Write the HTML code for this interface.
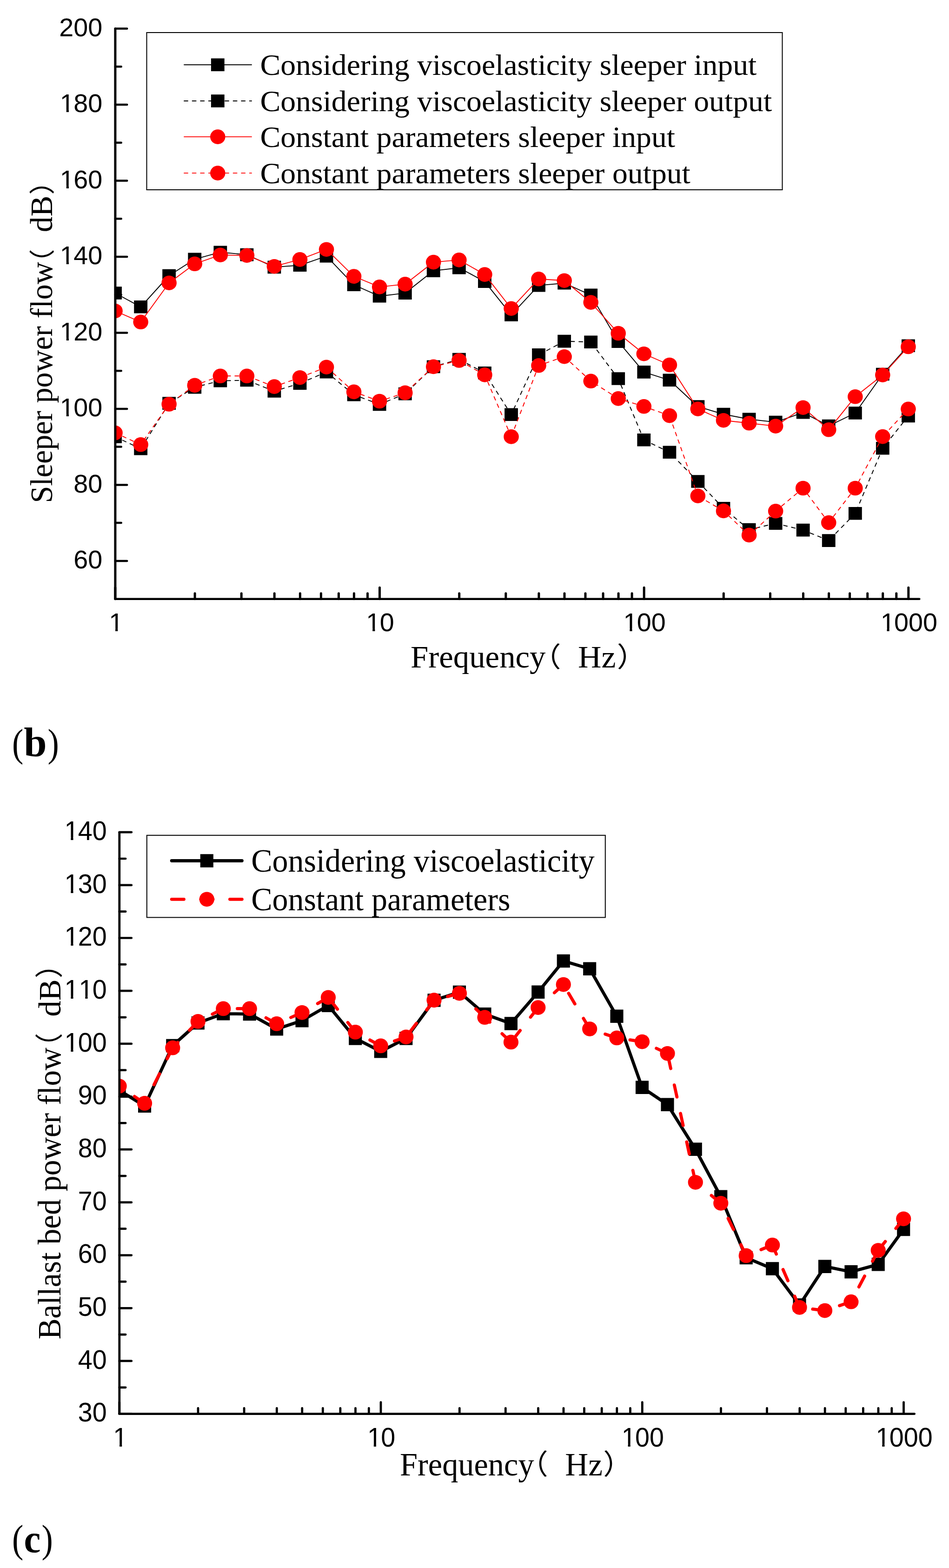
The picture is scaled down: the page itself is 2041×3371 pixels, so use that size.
<!DOCTYPE html>
<html lang="en"><head><meta charset="utf-8"><title>Power flow figures (b) and (c)</title>
<style>
html,body{margin:0;padding:0;background:#fff;}
svg{display:block;}
text{fill:#000;white-space:pre;}
.tk{font-family:"Liberation Sans",sans-serif;font-kerning:none;}
.sf{font-family:"Liberation Serif",serif;}
.sb{font-family:"Liberation Serif",serif;font-weight:bold;}
.cj{font-family:"Liberation Serif","Noto Sans CJK SC",sans-serif;}
.ax{stroke:#000;stroke-linecap:round;fill:none;}
</style></head><body>
<svg width="2041" height="3371" viewBox="0 0 2041 3371">
<rect x="0" y="0" width="2041" height="3371" fill="#ffffff"/>
<defs>
<clipPath id="clip1"><rect x="247.9" y="0" width="2041" height="1287.6"/></clipPath>
<clipPath id="clip2"><rect x="256.8" y="1700" width="2041" height="1339.6"/></clipPath>
</defs>
<g clip-path="url(#clip1)">
<g transform="scale(1.03 1)">
<path d="M293.84 659.80L240.34 630.00M353.03 592.50L293.84 659.80M406.53 557.30L353.03 592.50M460.03 542.20L406.53 557.30M515.44 547.60L460.03 542.20M572.72 574.40L515.44 547.60M626.22 570.30L572.72 574.40M681.63 550.60L626.22 570.30M738.91 612.30L681.63 550.60M792.41 636.80L738.91 612.30M845.91 630.10L792.41 636.80M905.10 582.10L845.91 630.10M958.60 575.80L905.10 582.10M1012.10 605.30L958.60 575.80M1067.51 676.90L1012.10 605.30M1124.79 613.60L1067.51 676.90M1178.29 608.70L1124.79 613.60M1233.70 634.40L1178.29 608.70M1290.97 734.30L1233.70 634.40M1344.48 799.90L1290.97 734.30M1397.98 817.30L1344.48 799.90M1457.16 874.00L1397.98 817.30M1510.66 890.50L1457.16 874.00M1564.17 901.20L1510.66 890.50M1619.58 907.60L1564.17 901.20M1676.85 886.80L1619.58 907.60M1730.35 915.60L1676.85 886.80M1785.77 888.00L1730.35 915.60M1843.04 804.50L1785.77 888.00M1896.54 743.20L1843.04 804.50" fill="none" stroke="#000" stroke-width="1.9" stroke-linecap="round" stroke-linejoin="round"/>
<path d="M226.36 616.20h27.96v27.6h-27.96zM279.86 646.00h27.96v27.6h-27.96zM339.05 578.70h27.96v27.6h-27.96zM392.55 543.50h27.96v27.6h-27.96zM446.05 528.40h27.96v27.6h-27.96zM501.46 533.80h27.96v27.6h-27.96zM558.74 560.60h27.96v27.6h-27.96zM612.24 556.50h27.96v27.6h-27.96zM667.65 536.80h27.96v27.6h-27.96zM724.93 598.50h27.96v27.6h-27.96zM778.43 623.00h27.96v27.6h-27.96zM831.93 616.30h27.96v27.6h-27.96zM891.12 568.30h27.96v27.6h-27.96zM944.62 562.00h27.96v27.6h-27.96zM998.12 591.50h27.96v27.6h-27.96zM1053.53 663.10h27.96v27.6h-27.96zM1110.81 599.80h27.96v27.6h-27.96zM1164.31 594.90h27.96v27.6h-27.96zM1219.72 620.60h27.96v27.6h-27.96zM1276.99 720.50h27.96v27.6h-27.96zM1330.50 786.10h27.96v27.6h-27.96zM1384.00 803.50h27.96v27.6h-27.96zM1443.18 860.20h27.96v27.6h-27.96zM1496.68 876.70h27.96v27.6h-27.96zM1550.19 887.40h27.96v27.6h-27.96zM1605.60 893.80h27.96v27.6h-27.96zM1662.87 873.00h27.96v27.6h-27.96zM1716.37 901.80h27.96v27.6h-27.96zM1771.79 874.20h27.96v27.6h-27.96zM1829.06 790.70h27.96v27.6h-27.96zM1882.56 729.40h27.96v27.6h-27.96z" fill="#000"/>
<path d="M293.84 964.70L240.34 938.90M353.03 867.10L293.84 964.70M406.53 832.60L353.03 867.10M460.03 818.60L406.53 832.60M515.44 817.50L460.03 818.60M572.72 841.00L515.44 817.50M626.22 824.20L572.72 841.00M681.63 799.80L626.22 824.20M738.91 848.60L681.63 799.80M792.41 869.40L738.91 848.60M845.91 846.60L792.41 869.40M905.10 788.40L845.91 846.60M958.60 772.50L905.10 788.40M1012.10 801.70L958.60 772.50M1067.51 891.30L1012.10 801.70M1124.79 762.90L1067.51 891.30M1178.29 733.60L1124.79 762.90M1233.70 735.20L1178.29 733.60M1290.97 814.00L1233.70 735.20M1344.48 945.80L1290.97 814.00M1397.98 972.30L1344.48 945.80M1457.16 1035.00L1397.98 972.30M1510.66 1092.70L1457.16 1035.00M1564.17 1138.60L1510.66 1092.70M1619.58 1125.20L1564.17 1138.60M1676.85 1139.60L1619.58 1125.20M1730.35 1162.10L1676.85 1139.60M1785.77 1103.80L1730.35 1162.10M1843.04 963.70L1785.77 1103.80M1896.54 894.50L1843.04 963.70" fill="none" stroke="#000" stroke-width="1.9" stroke-linecap="round" stroke-linejoin="round" stroke-dasharray="7.75 9.34"/>
<path d="M226.36 925.10h27.96v27.6h-27.96zM279.86 950.90h27.96v27.6h-27.96zM339.05 853.30h27.96v27.6h-27.96zM392.55 818.80h27.96v27.6h-27.96zM446.05 804.80h27.96v27.6h-27.96zM501.46 803.70h27.96v27.6h-27.96zM558.74 827.20h27.96v27.6h-27.96zM612.24 810.40h27.96v27.6h-27.96zM667.65 786.00h27.96v27.6h-27.96zM724.93 834.80h27.96v27.6h-27.96zM778.43 855.60h27.96v27.6h-27.96zM831.93 832.80h27.96v27.6h-27.96zM891.12 774.60h27.96v27.6h-27.96zM944.62 758.70h27.96v27.6h-27.96zM998.12 787.90h27.96v27.6h-27.96zM1053.53 877.50h27.96v27.6h-27.96zM1110.81 749.10h27.96v27.6h-27.96zM1164.31 719.80h27.96v27.6h-27.96zM1219.72 721.40h27.96v27.6h-27.96zM1276.99 800.20h27.96v27.6h-27.96zM1330.50 932.00h27.96v27.6h-27.96zM1384.00 958.50h27.96v27.6h-27.96zM1443.18 1021.20h27.96v27.6h-27.96zM1496.68 1078.90h27.96v27.6h-27.96zM1550.19 1124.80h27.96v27.6h-27.96zM1605.60 1111.40h27.96v27.6h-27.96zM1662.87 1125.80h27.96v27.6h-27.96zM1716.37 1148.30h27.96v27.6h-27.96zM1771.79 1090.00h27.96v27.6h-27.96zM1829.06 949.90h27.96v27.6h-27.96zM1882.56 880.70h27.96v27.6h-27.96z" fill="#000"/>
<path d="M293.84 692.30L240.34 668.50M353.03 608.20L293.84 692.30M406.53 567.30L353.03 608.20M460.03 548.20L406.53 567.30M515.44 549.20L460.03 548.20M572.72 572.70L515.44 549.20M626.22 557.90L572.72 572.70M681.63 536.20L626.22 557.90M738.91 594.10L681.63 536.20M792.41 616.90L738.91 594.10M845.91 610.90L792.41 616.90M905.10 563.60L845.91 610.90M958.60 558.90L905.10 563.60M1012.10 590.10L958.60 558.90M1067.51 663.20L1012.10 590.10M1124.79 599.80L1067.51 663.20M1178.29 603.20L1124.79 599.80M1233.70 650.10L1178.29 603.20M1290.97 716.50L1233.70 650.10M1344.48 760.70L1290.97 716.50M1397.98 784.50L1344.48 760.70M1457.16 879.20L1397.98 784.50M1510.66 903.70L1457.16 879.20M1564.17 909.80L1510.66 903.70M1619.58 916.10L1564.17 909.80M1676.85 876.20L1619.58 916.10M1730.35 923.80L1676.85 876.20M1785.77 852.80L1730.35 923.80M1843.04 806.20L1785.77 852.80M1896.54 745.50L1843.04 806.20" fill="none" stroke="#ff0000" stroke-width="1.9" stroke-linecap="round" stroke-linejoin="round"/>
<ellipse cx="240.34" cy="668.50" rx="15.8" ry="15.8" fill="#ff0000"/>
<ellipse cx="293.84" cy="692.30" rx="15.8" ry="15.8" fill="#ff0000"/>
<ellipse cx="353.03" cy="608.20" rx="15.8" ry="15.8" fill="#ff0000"/>
<ellipse cx="406.53" cy="567.30" rx="15.8" ry="15.8" fill="#ff0000"/>
<ellipse cx="460.03" cy="548.20" rx="15.8" ry="15.8" fill="#ff0000"/>
<ellipse cx="515.44" cy="549.20" rx="15.8" ry="15.8" fill="#ff0000"/>
<ellipse cx="572.72" cy="572.70" rx="15.8" ry="15.8" fill="#ff0000"/>
<ellipse cx="626.22" cy="557.90" rx="15.8" ry="15.8" fill="#ff0000"/>
<ellipse cx="681.63" cy="536.20" rx="15.8" ry="15.8" fill="#ff0000"/>
<ellipse cx="738.91" cy="594.10" rx="15.8" ry="15.8" fill="#ff0000"/>
<ellipse cx="792.41" cy="616.90" rx="15.8" ry="15.8" fill="#ff0000"/>
<ellipse cx="845.91" cy="610.90" rx="15.8" ry="15.8" fill="#ff0000"/>
<ellipse cx="905.10" cy="563.60" rx="15.8" ry="15.8" fill="#ff0000"/>
<ellipse cx="958.60" cy="558.90" rx="15.8" ry="15.8" fill="#ff0000"/>
<ellipse cx="1012.10" cy="590.10" rx="15.8" ry="15.8" fill="#ff0000"/>
<ellipse cx="1067.51" cy="663.20" rx="15.8" ry="15.8" fill="#ff0000"/>
<ellipse cx="1124.79" cy="599.80" rx="15.8" ry="15.8" fill="#ff0000"/>
<ellipse cx="1178.29" cy="603.20" rx="15.8" ry="15.8" fill="#ff0000"/>
<ellipse cx="1233.70" cy="650.10" rx="15.8" ry="15.8" fill="#ff0000"/>
<ellipse cx="1290.97" cy="716.50" rx="15.8" ry="15.8" fill="#ff0000"/>
<ellipse cx="1344.48" cy="760.70" rx="15.8" ry="15.8" fill="#ff0000"/>
<ellipse cx="1397.98" cy="784.50" rx="15.8" ry="15.8" fill="#ff0000"/>
<ellipse cx="1457.16" cy="879.20" rx="15.8" ry="15.8" fill="#ff0000"/>
<ellipse cx="1510.66" cy="903.70" rx="15.8" ry="15.8" fill="#ff0000"/>
<ellipse cx="1564.17" cy="909.80" rx="15.8" ry="15.8" fill="#ff0000"/>
<ellipse cx="1619.58" cy="916.10" rx="15.8" ry="15.8" fill="#ff0000"/>
<ellipse cx="1676.85" cy="876.20" rx="15.8" ry="15.8" fill="#ff0000"/>
<ellipse cx="1730.35" cy="923.80" rx="15.8" ry="15.8" fill="#ff0000"/>
<ellipse cx="1785.77" cy="852.80" rx="15.8" ry="15.8" fill="#ff0000"/>
<ellipse cx="1843.04" cy="806.20" rx="15.8" ry="15.8" fill="#ff0000"/>
<ellipse cx="1896.54" cy="745.50" rx="15.8" ry="15.8" fill="#ff0000"/>
<path d="M293.84 955.80L240.34 930.60M353.03 869.00L293.84 955.80M406.53 828.40L353.03 869.00M460.03 808.30L406.53 828.40M515.44 808.30L460.03 808.30M572.72 831.10L515.44 808.30M626.22 811.70L572.72 831.10M681.63 789.20L626.22 811.70M738.91 842.40L681.63 789.20M792.41 862.50L738.91 842.40M845.91 844.40L792.41 862.50M905.10 788.40L845.91 844.40M958.60 775.00L905.10 788.40M1012.10 805.90L958.60 775.00M1067.51 938.90L1012.10 805.90M1124.79 785.80L1067.51 938.90M1178.29 766.70L1124.79 785.80M1233.70 819.30L1178.29 766.70M1290.97 856.90L1233.70 819.30M1344.48 873.80L1290.97 856.90M1397.98 893.60L1344.48 873.80M1457.16 1066.20L1397.98 893.60M1510.66 1098.40L1457.16 1066.20M1564.17 1150.40L1510.66 1098.40M1619.58 1098.80L1564.17 1150.40M1676.85 1049.50L1619.58 1098.80M1730.35 1123.60L1676.85 1049.50M1785.77 1049.50L1730.35 1123.60M1843.04 938.60L1785.77 1049.50M1896.54 879.30L1843.04 938.60" fill="none" stroke="#ff0000" stroke-width="1.9" stroke-linecap="round" stroke-linejoin="round" stroke-dasharray="7.75 9.34"/>
<ellipse cx="240.34" cy="930.60" rx="15.8" ry="15.8" fill="#ff0000"/>
<ellipse cx="293.84" cy="955.80" rx="15.8" ry="15.8" fill="#ff0000"/>
<ellipse cx="353.03" cy="869.00" rx="15.8" ry="15.8" fill="#ff0000"/>
<ellipse cx="406.53" cy="828.40" rx="15.8" ry="15.8" fill="#ff0000"/>
<ellipse cx="460.03" cy="808.30" rx="15.8" ry="15.8" fill="#ff0000"/>
<ellipse cx="515.44" cy="808.30" rx="15.8" ry="15.8" fill="#ff0000"/>
<ellipse cx="572.72" cy="831.10" rx="15.8" ry="15.8" fill="#ff0000"/>
<ellipse cx="626.22" cy="811.70" rx="15.8" ry="15.8" fill="#ff0000"/>
<ellipse cx="681.63" cy="789.20" rx="15.8" ry="15.8" fill="#ff0000"/>
<ellipse cx="738.91" cy="842.40" rx="15.8" ry="15.8" fill="#ff0000"/>
<ellipse cx="792.41" cy="862.50" rx="15.8" ry="15.8" fill="#ff0000"/>
<ellipse cx="845.91" cy="844.40" rx="15.8" ry="15.8" fill="#ff0000"/>
<ellipse cx="905.10" cy="788.40" rx="15.8" ry="15.8" fill="#ff0000"/>
<ellipse cx="958.60" cy="775.00" rx="15.8" ry="15.8" fill="#ff0000"/>
<ellipse cx="1012.10" cy="805.90" rx="15.8" ry="15.8" fill="#ff0000"/>
<ellipse cx="1067.51" cy="938.90" rx="15.8" ry="15.8" fill="#ff0000"/>
<ellipse cx="1124.79" cy="785.80" rx="15.8" ry="15.8" fill="#ff0000"/>
<ellipse cx="1178.29" cy="766.70" rx="15.8" ry="15.8" fill="#ff0000"/>
<ellipse cx="1233.70" cy="819.30" rx="15.8" ry="15.8" fill="#ff0000"/>
<ellipse cx="1290.97" cy="856.90" rx="15.8" ry="15.8" fill="#ff0000"/>
<ellipse cx="1344.48" cy="873.80" rx="15.8" ry="15.8" fill="#ff0000"/>
<ellipse cx="1397.98" cy="893.60" rx="15.8" ry="15.8" fill="#ff0000"/>
<ellipse cx="1457.16" cy="1066.20" rx="15.8" ry="15.8" fill="#ff0000"/>
<ellipse cx="1510.66" cy="1098.40" rx="15.8" ry="15.8" fill="#ff0000"/>
<ellipse cx="1564.17" cy="1150.40" rx="15.8" ry="15.8" fill="#ff0000"/>
<ellipse cx="1619.58" cy="1098.80" rx="15.8" ry="15.8" fill="#ff0000"/>
<ellipse cx="1676.85" cy="1049.50" rx="15.8" ry="15.8" fill="#ff0000"/>
<ellipse cx="1730.35" cy="1123.60" rx="15.8" ry="15.8" fill="#ff0000"/>
<ellipse cx="1785.77" cy="1049.50" rx="15.8" ry="15.8" fill="#ff0000"/>
<ellipse cx="1843.04" cy="938.60" rx="15.8" ry="15.8" fill="#ff0000"/>
<ellipse cx="1896.54" cy="879.30" rx="15.8" ry="15.8" fill="#ff0000"/>
</g>
</g>
<path class="ax" stroke-width="5" d="M247.9 61.5V1287.8"/>
<path class="ax" stroke-width="4.5" d="M247.9 1287.8H1977.3"/>
<path class="ax" stroke-width="4.5" d="M247.9 1205.9h25.3M247.9 1042.4h25.3M247.9 878.9h25.3M247.9 715.4h25.3M247.9 551.9h25.3M247.9 388.5h25.3M247.9 225.0h25.3M247.9 61.5h25.3M247.9 1124.1h12.8M247.9 960.6h12.8M247.9 797.2h12.8M247.9 633.7h12.8M247.9 470.2h12.8M247.9 306.7h12.8M247.9 143.2h12.8"/>
<path class="ax" stroke-width="5" d="M247.9 1287.8v-24.6M419.1 1287.8v-12.1M519.2 1287.8v-12.1M590.2 1287.8v-12.1M645.4 1287.8v-12.1M690.4 1287.8v-12.1M728.4 1287.8v-12.1M761.4 1287.8v-12.1M790.5 1287.8v-12.1M816.5 1287.8v-24.6M987.7 1287.8v-12.1M1087.8 1287.8v-12.1M1158.9 1287.8v-12.1M1214.0 1287.8v-12.1M1259.0 1287.8v-12.1M1297.1 1287.8v-12.1M1330.1 1287.8v-12.1M1359.1 1287.8v-12.1M1385.2 1287.8v-24.6M1556.3 1287.8v-12.1M1656.5 1287.8v-12.1M1727.5 1287.8v-12.1M1782.6 1287.8v-12.1M1827.6 1287.8v-12.1M1865.7 1287.8v-12.1M1898.7 1287.8v-12.1M1927.8 1287.8v-12.1M1953.8 1287.8v-24.6"/>
<text x="158.24 189.22" y="1222.3" class="tk" font-size="55.7">60</text>
<text x="158.24 189.22" y="1058.8" class="tk" font-size="55.7">80</text>
<clipPath id="tc1"><path clip-rule="evenodd" d="M117.3 834.0h112.9v78.0h-112.9zM131.65 889.98H142.75v7.32H131.65zM147.92 889.98H158.39v7.32H147.92z"/></clipPath>
<g clip-path="url(#tc1)"><text x="128.87 158.24 189.22" y="895.3" class="tk" font-size="55.7">100</text></g>
<clipPath id="tc2"><path clip-rule="evenodd" d="M117.3 670.5h112.9v78.0h-112.9zM131.65 725.98H142.75v7.84H131.65zM147.92 725.98H158.39v7.84H147.92z"/></clipPath>
<g clip-path="url(#tc2)"><text x="128.87 158.24 189.22" y="731.8" class="tk" font-size="55.7">120</text></g>
<clipPath id="tc3"><path clip-rule="evenodd" d="M117.3 507.1h112.9v78.0h-112.9zM131.65 562.98H142.75v7.36H131.65zM147.92 562.98H158.39v7.36H147.92z"/></clipPath>
<g clip-path="url(#tc3)"><text x="128.87 158.24 189.22" y="568.3" class="tk" font-size="55.7">140</text></g>
<clipPath id="tc4"><path clip-rule="evenodd" d="M117.3 343.6h112.9v78.0h-112.9zM131.65 398.98H142.75v7.88H131.65zM147.92 398.98H158.39v7.88H147.92z"/></clipPath>
<g clip-path="url(#tc4)"><text x="128.87 158.24 189.22" y="404.9" class="tk" font-size="55.7">160</text></g>
<clipPath id="tc5"><path clip-rule="evenodd" d="M117.3 180.1h112.9v78.0h-112.9zM131.65 235.98H142.75v7.40H131.65zM147.92 235.98H158.39v7.40H147.92z"/></clipPath>
<g clip-path="url(#tc5)"><text x="128.87 158.24 189.22" y="241.4" class="tk" font-size="55.7">180</text></g>
<text x="127.27 158.24 189.22" y="77.9" class="tk" font-size="55.7">200</text>
<clipPath id="tc6"><path clip-rule="evenodd" d="M222.6 1295.7h51.0v78.0h-51.0zM237.00 1350.98H248.10v8.02H237.00zM253.26 1350.98H263.73v8.02H253.26z"/></clipPath>
<g clip-path="url(#tc6)"><text x="234.21" y="1357.0" class="tk" font-size="55.7">1</text></g>
<clipPath id="tc7"><path clip-rule="evenodd" d="M775.8 1295.7h82.0v78.0h-82.0zM790.14 1350.98H801.24v8.02H790.14zM806.40 1350.98H816.87v8.02H806.40z"/></clipPath>
<g clip-path="url(#tc7)"><text x="787.35 816.73" y="1357.0" class="tk" font-size="55.7">10</text></g>
<clipPath id="tc8"><path clip-rule="evenodd" d="M1328.9 1295.7h112.9v78.0h-112.9zM1343.28 1350.98H1354.38v8.02H1343.28zM1359.54 1350.98H1370.01v8.02H1359.54z"/></clipPath>
<g clip-path="url(#tc8)"><text x="1340.49 1369.87 1400.85" y="1357.0" class="tk" font-size="55.7">100</text></g>
<clipPath id="tc9"><path clip-rule="evenodd" d="M1882.0 1295.7h143.9v78.0h-143.9zM1896.42 1350.98H1907.52v8.02H1896.42zM1912.68 1350.98H1923.16v8.02H1912.68z"/></clipPath>
<g clip-path="url(#tc9)"><text x="1893.63 1923.01 1953.99 1984.97" y="1357.0" class="tk" font-size="55.7">1000</text></g>
<g><text transform="translate(883.1 1435) scale(1.027 1)" font-size="67.0" class="sf">Frequency</text><text transform="translate(1143.2 1433.3) scale(1.077 1)" font-size="58.8" class="cj">（ </text><text transform="translate(1243.0 1435) scale(1.042 1)" font-size="67.0" class="sf">Hz</text><text transform="translate(1326.7 1433.3) scale(1.077 1)" font-size="58.8" class="cj">）</text></g>
<g transform="translate(112.3 1081.6) rotate(-90)"><text transform="translate(0 0) scale(1 1.02)" font-size="66.2" class="sf">Sleeper power flow</text><text transform="translate(487.75 -1.65) scale(1.056 1)" font-size="55.25" class="cj">（ </text><text x="582.4" y="0" font-size="67.3" class="sf">dB</text><text transform="translate(662.9 -1.65) scale(1.056 1)" font-size="55.25" class="cj">）</text></g>
<rect x="315.5" y="70" width="1367" height="338" fill="#fff" stroke="#000" stroke-width="2"/>
<path d="M396 139.3H541" stroke="#000" stroke-width="1.9" stroke-linecap="round" fill="none"/>
<path d="M453.90 125.50h28.8v27.6h-28.8z" fill="#000"/>
<text transform="translate(559.4 161.2) scale(1.0225 1)" font-size="64.3" class="sf">Considering viscoelasticity sleeper input</text>
<path d="M396 217.0H541" stroke="#000" stroke-width="1.9" stroke-linecap="round" fill="none" stroke-dasharray="8.0 9.6"/>
<path d="M453.90 203.20h28.8v27.6h-28.8z" fill="#000"/>
<text transform="translate(559.4 238.8) scale(1.0225 1)" font-size="64.3" class="sf">Considering viscoelasticity sleeper output</text>
<path d="M396 294.1H541" stroke="#ff0000" stroke-width="1.9" stroke-linecap="round" fill="none"/>
<ellipse cx="468.30" cy="294.10" rx="16.27" ry="15.8" fill="#ff0000"/>
<text transform="translate(559.4 315.6) scale(1.0225 1)" font-size="64.3" class="sf">Constant parameters sleeper input</text>
<path d="M396 372.1H541" stroke="#ff0000" stroke-width="1.9" stroke-linecap="round" fill="none" stroke-dasharray="8.0 9.6"/>
<ellipse cx="468.30" cy="372.10" rx="16.27" ry="15.8" fill="#ff0000"/>
<text transform="translate(559.4 393.6) scale(1.0225 1)" font-size="64.3" class="sf">Constant parameters sleeper output</text>
<g><text transform="translate(26.0 1625.5) scale(0.87 1)" font-size="83.8" class="sf">(</text><text transform="translate(51.15 1625.7) scale(1.005 1)" font-size="88.2" class="sb">b</text><text transform="translate(102.6 1625.5) scale(0.87 1)" font-size="83.8" class="sf">)</text></g>
<g clip-path="url(#clip2)">
<path d="M311.04 2377.75L256.55 2344.05M371.31 2248.05L311.04 2377.75M425.80 2199.15L371.31 2248.05M480.28 2179.35L425.80 2199.15M536.72 2180.05L480.28 2179.35M595.05 2212.25L536.72 2180.05M649.53 2194.15L595.05 2212.25M705.96 2161.65L649.53 2194.15M764.29 2232.55L705.96 2161.65M818.78 2260.35L764.29 2232.55M873.27 2232.55L818.78 2260.35M933.54 2150.45L873.27 2232.55M988.03 2133.05L933.54 2150.45M1042.51 2180.25L988.03 2133.05M1098.95 2200.55L1042.51 2180.25M1157.28 2132.85L1098.95 2200.55M1211.76 2065.95L1157.28 2132.85M1268.19 2082.65L1211.76 2065.95M1326.52 2184.85L1268.19 2082.65M1381.01 2337.85L1326.52 2184.85M1435.50 2374.65L1381.01 2337.85M1495.77 2470.85L1435.50 2374.65M1550.26 2572.85L1495.77 2470.85M1604.74 2703.95L1550.26 2572.85M1661.18 2727.55L1604.74 2703.95M1719.51 2805.55L1661.18 2727.55M1773.99 2722.65L1719.51 2805.55M1830.42 2734.25L1773.99 2722.65M1888.75 2718.35L1830.42 2734.25M1943.24 2642.95L1888.75 2718.35" fill="none" stroke="#000" stroke-width="6.8" stroke-linecap="round" stroke-linejoin="round"/>
<path d="M242.50 2329.80h28.1v28.5h-28.1zM296.99 2363.50h28.1v28.5h-28.1zM357.26 2233.80h28.1v28.5h-28.1zM411.75 2184.90h28.1v28.5h-28.1zM466.23 2165.10h28.1v28.5h-28.1zM522.67 2165.80h28.1v28.5h-28.1zM581.00 2198.00h28.1v28.5h-28.1zM635.48 2179.90h28.1v28.5h-28.1zM691.91 2147.40h28.1v28.5h-28.1zM750.24 2218.30h28.1v28.5h-28.1zM804.73 2246.10h28.1v28.5h-28.1zM859.22 2218.30h28.1v28.5h-28.1zM919.49 2136.20h28.1v28.5h-28.1zM973.98 2118.80h28.1v28.5h-28.1zM1028.46 2166.00h28.1v28.5h-28.1zM1084.90 2186.30h28.1v28.5h-28.1zM1143.23 2118.60h28.1v28.5h-28.1zM1197.71 2051.70h28.1v28.5h-28.1zM1254.14 2068.40h28.1v28.5h-28.1zM1312.47 2170.60h28.1v28.5h-28.1zM1366.96 2323.60h28.1v28.5h-28.1zM1421.45 2360.40h28.1v28.5h-28.1zM1481.72 2456.60h28.1v28.5h-28.1zM1536.21 2558.60h28.1v28.5h-28.1zM1590.69 2689.70h28.1v28.5h-28.1zM1647.13 2713.30h28.1v28.5h-28.1zM1705.46 2791.30h28.1v28.5h-28.1zM1759.94 2708.40h28.1v28.5h-28.1zM1816.37 2720.00h28.1v28.5h-28.1zM1874.70 2704.10h28.1v28.5h-28.1zM1929.19 2628.70h28.1v28.5h-28.1z" fill="#000"/>
<path d="M311.04 2371.95L256.55 2335.05M371.31 2252.65L311.04 2371.95M425.80 2195.95L371.31 2252.65M480.28 2168.45L425.80 2195.95M536.72 2168.45L480.28 2168.45M595.05 2200.95L536.72 2168.45M649.53 2176.85L595.05 2200.95M705.96 2144.35L649.53 2176.85M764.29 2218.95L705.96 2144.35M818.78 2248.45L764.29 2218.95M873.27 2229.35L818.78 2248.45M933.54 2150.25L873.27 2229.35M988.03 2135.55L933.54 2150.25M1042.51 2187.15L988.03 2135.55M1098.95 2240.45L1042.51 2187.15M1157.28 2166.05L1098.95 2240.45M1211.76 2116.55L1157.28 2166.05M1268.19 2212.05L1211.76 2116.55M1326.52 2231.45L1268.19 2212.05M1381.01 2239.55L1326.52 2231.45M1435.50 2264.85L1381.01 2239.55M1495.77 2541.85L1435.50 2264.85M1550.26 2586.85L1495.77 2541.85M1604.74 2699.45L1550.26 2586.85M1661.18 2676.65L1604.74 2699.45M1719.51 2810.85L1661.18 2676.65M1773.99 2817.55L1719.51 2810.85M1830.42 2798.65L1773.99 2817.55M1888.75 2688.05L1830.42 2798.65M1943.24 2620.35L1888.75 2688.05" fill="none" stroke="#ff0000" stroke-width="6.8" stroke-linecap="round" stroke-linejoin="round" stroke-dasharray="26.3 36.3"/>
<ellipse cx="256.55" cy="2335.05" rx="16.1" ry="15.9" fill="#ff0000"/>
<ellipse cx="311.04" cy="2371.95" rx="16.1" ry="15.9" fill="#ff0000"/>
<ellipse cx="371.31" cy="2252.65" rx="16.1" ry="15.9" fill="#ff0000"/>
<ellipse cx="425.80" cy="2195.95" rx="16.1" ry="15.9" fill="#ff0000"/>
<ellipse cx="480.28" cy="2168.45" rx="16.1" ry="15.9" fill="#ff0000"/>
<ellipse cx="536.72" cy="2168.45" rx="16.1" ry="15.9" fill="#ff0000"/>
<ellipse cx="595.05" cy="2200.95" rx="16.1" ry="15.9" fill="#ff0000"/>
<ellipse cx="649.53" cy="2176.85" rx="16.1" ry="15.9" fill="#ff0000"/>
<ellipse cx="705.96" cy="2144.35" rx="16.1" ry="15.9" fill="#ff0000"/>
<ellipse cx="764.29" cy="2218.95" rx="16.1" ry="15.9" fill="#ff0000"/>
<ellipse cx="818.78" cy="2248.45" rx="16.1" ry="15.9" fill="#ff0000"/>
<ellipse cx="873.27" cy="2229.35" rx="16.1" ry="15.9" fill="#ff0000"/>
<ellipse cx="933.54" cy="2150.25" rx="16.1" ry="15.9" fill="#ff0000"/>
<ellipse cx="988.03" cy="2135.55" rx="16.1" ry="15.9" fill="#ff0000"/>
<ellipse cx="1042.51" cy="2187.15" rx="16.1" ry="15.9" fill="#ff0000"/>
<ellipse cx="1098.95" cy="2240.45" rx="16.1" ry="15.9" fill="#ff0000"/>
<ellipse cx="1157.28" cy="2166.05" rx="16.1" ry="15.9" fill="#ff0000"/>
<ellipse cx="1211.76" cy="2116.55" rx="16.1" ry="15.9" fill="#ff0000"/>
<ellipse cx="1268.19" cy="2212.05" rx="16.1" ry="15.9" fill="#ff0000"/>
<ellipse cx="1326.52" cy="2231.45" rx="16.1" ry="15.9" fill="#ff0000"/>
<ellipse cx="1381.01" cy="2239.55" rx="16.1" ry="15.9" fill="#ff0000"/>
<ellipse cx="1435.50" cy="2264.85" rx="16.1" ry="15.9" fill="#ff0000"/>
<ellipse cx="1495.77" cy="2541.85" rx="16.1" ry="15.9" fill="#ff0000"/>
<ellipse cx="1550.26" cy="2586.85" rx="16.1" ry="15.9" fill="#ff0000"/>
<ellipse cx="1604.74" cy="2699.45" rx="16.1" ry="15.9" fill="#ff0000"/>
<ellipse cx="1661.18" cy="2676.65" rx="16.1" ry="15.9" fill="#ff0000"/>
<ellipse cx="1719.51" cy="2810.85" rx="16.1" ry="15.9" fill="#ff0000"/>
<ellipse cx="1773.99" cy="2817.55" rx="16.1" ry="15.9" fill="#ff0000"/>
<ellipse cx="1830.42" cy="2798.65" rx="16.1" ry="15.9" fill="#ff0000"/>
<ellipse cx="1888.75" cy="2688.05" rx="16.1" ry="15.9" fill="#ff0000"/>
<ellipse cx="1943.24" cy="2620.35" rx="16.1" ry="15.9" fill="#ff0000"/>
</g>
<path class="ax" stroke-width="4.8" d="M256.8 1789.2V3039.6"/>
<path class="ax" stroke-width="4.7" d="M256.8 3039.6H1966.7"/>
<path class="ax" stroke-width="4.7" d="M256.8 3039.6h26.0M256.8 2925.9h26.0M256.8 2812.3h26.0M256.8 2698.6h26.0M256.8 2584.9h26.0M256.8 2471.2h26.0M256.8 2357.6h26.0M256.8 2243.9h26.0M256.8 2130.2h26.0M256.8 2016.5h26.0M256.8 1902.9h26.0M256.8 1789.2h26.0M256.8 2982.8h13.3M256.8 2869.1h13.3M256.8 2755.4h13.3M256.8 2641.7h13.3M256.8 2528.1h13.3M256.8 2414.4h13.3M256.8 2300.7h13.3M256.8 2187.1h13.3M256.8 2073.4h13.3M256.8 1959.7h13.3M256.8 1846.0h13.3"/>
<path class="ax" stroke-width="4.8" d="M256.8 3039.6v-25M426.0 3039.6v-12.2M525.1 3039.6v-12.2M595.3 3039.6v-12.2M649.8 3039.6v-12.2M694.3 3039.6v-12.2M731.9 3039.6v-12.2M764.5 3039.6v-12.2M793.3 3039.6v-12.2M819.0 3039.6v-25M988.3 3039.6v-12.2M1087.3 3039.6v-12.2M1157.5 3039.6v-12.2M1212.0 3039.6v-12.2M1256.5 3039.6v-12.2M1294.2 3039.6v-12.2M1326.8 3039.6v-12.2M1355.5 3039.6v-12.2M1381.3 3039.6v-25M1550.5 3039.6v-12.2M1649.5 3039.6v-12.2M1719.8 3039.6v-12.2M1774.2 3039.6v-12.2M1818.8 3039.6v-12.2M1856.4 3039.6v-12.2M1889.0 3039.6v-12.2M1917.8 3039.6v-12.2M1943.5 3039.6v-25"/>
<text transform="translate(0 3056.2) scale(1 1.015)" x="167.84 198.82" y="0" class="tk" font-size="55.7">30</text>
<text transform="translate(0 2942.5) scale(1 1.015)" x="167.84 198.82" y="0" class="tk" font-size="55.7">40</text>
<text transform="translate(0 2828.9) scale(1 1.015)" x="167.84 198.82" y="0" class="tk" font-size="55.7">50</text>
<text transform="translate(0 2715.2) scale(1 1.015)" x="167.84 198.82" y="0" class="tk" font-size="55.7">60</text>
<text transform="translate(0 2601.5) scale(1 1.015)" x="167.84 198.82" y="0" class="tk" font-size="55.7">70</text>
<text transform="translate(0 2487.8) scale(1 1.015)" x="167.84 198.82" y="0" class="tk" font-size="55.7">80</text>
<text transform="translate(0 2374.2) scale(1 1.015)" x="167.84 198.82" y="0" class="tk" font-size="55.7">90</text>
<clipPath id="tc10"><path clip-rule="evenodd" d="M126.9 2199.2h112.9v78.0h-112.9zM141.25 2254.98H152.35v7.51H141.25zM157.52 2254.98H167.99v7.51H157.52z"/></clipPath>
<g clip-path="url(#tc10)"><text transform="translate(0 2260.5) scale(1 1.015)" x="138.47 167.84 198.82" y="0" class="tk" font-size="55.7">100</text></g>
<clipPath id="tc11"><path clip-rule="evenodd" d="M126.9 2085.5h112.9v78.0h-112.9zM141.25 2140.98H152.35v7.84H141.25zM157.52 2140.98H167.99v7.84H157.52zM172.23 2140.98H183.33v7.84H172.23zM188.49 2140.98H198.97v7.84H188.49z"/></clipPath>
<g clip-path="url(#tc11)"><text transform="translate(0 2146.8) scale(1 1.015)" x="138.47 169.44 198.82" y="0" class="tk" font-size="55.7">110</text></g>
<clipPath id="tc12"><path clip-rule="evenodd" d="M126.9 1971.9h112.9v78.0h-112.9zM141.25 2026.98H152.35v8.17H141.25zM157.52 2026.98H167.99v8.17H157.52z"/></clipPath>
<g clip-path="url(#tc12)"><text transform="translate(0 2033.1) scale(1 1.015)" x="138.47 167.84 198.82" y="0" class="tk" font-size="55.7">120</text></g>
<clipPath id="tc13"><path clip-rule="evenodd" d="M126.9 1858.2h112.9v78.0h-112.9zM141.25 1913.98H152.35v7.49H141.25zM157.52 1913.98H167.99v7.49H157.52z"/></clipPath>
<g clip-path="url(#tc13)"><text transform="translate(0 1919.5) scale(1 1.015)" x="138.47 167.84 198.82" y="0" class="tk" font-size="55.7">130</text></g>
<clipPath id="tc14"><path clip-rule="evenodd" d="M126.9 1744.5h112.9v78.0h-112.9zM141.25 1799.98H152.35v7.82H141.25zM157.52 1799.98H167.99v7.82H157.52z"/></clipPath>
<g clip-path="url(#tc14)"><text transform="translate(0 1805.8) scale(1 1.015)" x="138.47 167.84 198.82" y="0" class="tk" font-size="55.7">140</text></g>
<clipPath id="tc15"><path clip-rule="evenodd" d="M231.6 3048.9h51.0v78.0h-51.0zM246.00 3103.98H257.10v8.22H246.00zM262.26 3103.98H272.73v8.22H262.26z"/></clipPath>
<g clip-path="url(#tc15)"><text transform="translate(0 3110.2) scale(1 1.015)" x="243.21" y="0" class="tk" font-size="55.7">1</text></g>
<clipPath id="tc16"><path clip-rule="evenodd" d="M778.4 3048.9h82.0v78.0h-82.0zM792.74 3103.98H803.84v8.22H792.74zM809.00 3103.98H819.47v8.22H809.00z"/></clipPath>
<g clip-path="url(#tc16)"><text transform="translate(0 3110.2) scale(1 1.015)" x="789.95 819.33" y="0" class="tk" font-size="55.7">10</text></g>
<clipPath id="tc17"><path clip-rule="evenodd" d="M1325.1 3048.9h112.9v78.0h-112.9zM1339.48 3103.98H1350.58v8.22H1339.48zM1355.74 3103.98H1366.21v8.22H1355.74z"/></clipPath>
<g clip-path="url(#tc17)"><text transform="translate(0 3110.2) scale(1 1.015)" x="1336.69 1366.07 1397.05" y="0" class="tk" font-size="55.7">100</text></g>
<clipPath id="tc18"><path clip-rule="evenodd" d="M1871.8 3048.9h143.9v78.0h-143.9zM1886.22 3103.98H1897.32v8.22H1886.22zM1902.48 3103.98H1912.96v8.22H1902.48z"/></clipPath>
<g clip-path="url(#tc18)"><text transform="translate(0 3110.2) scale(1 1.015)" x="1883.43 1912.81 1943.79 1974.77" y="0" class="tk" font-size="55.7">1000</text></g>
<g><text transform="translate(860.0 3171.5) scale(0.991 1)" font-size="69.0" class="sf">Frequency</text><text transform="translate(1116.3 3170.2) scale(1.045 1)" font-size="59.9" class="cj">（ </text><text transform="translate(1215.2 3171.5) scale(1.004 1)" font-size="69.0" class="sf">Hz</text><text transform="translate(1297.3 3170.2) scale(1.045 1)" font-size="59.9" class="cj">）</text></g>
<g transform="translate(129.9 2879.6) rotate(-90)"><text transform="translate(0 0) scale(1 1.028)" font-size="67.44" class="sf">Ballast bed power flow</text><text x="598.5" y="-1.5" font-size="60.3" class="cj">（ </text><text transform="translate(693.9 0) scale(1 0.987)" font-size="68.9" class="sf">dB</text><text x="776.4" y="-1.5" font-size="60.3" class="cj">）</text></g>
<rect x="315.8" y="1795.8" width="986" height="176.6" fill="#fff" stroke="#000" stroke-width="2"/>
<path d="M369.2 1850.5H520.4" stroke="#000" stroke-width="6.8" stroke-linecap="round" fill="none"/>
<path d="M430.75 1836.25h28.1v28.5h-28.1z" fill="#000"/>
<text transform="translate(540.2 1874.3) scale(0.983 1)" font-size="69.2" class="sf">Considering viscoelasticity</text>
<path d="M369.2 1933.3H520.4" stroke="#ff0000" stroke-width="6.8" stroke-linecap="round" fill="none" stroke-dasharray="26.3 36.3"/>
<ellipse cx="444.80" cy="1933.30" rx="16.1" ry="15.9" fill="#ff0000"/>
<text transform="translate(540.2 1956.9) scale(0.983 1)" font-size="69.2" class="sf">Constant parameters</text>
<g><text transform="translate(26.0 3337.3) scale(0.87 1)" font-size="83.8" class="sf">(</text><text transform="translate(51.5 3337.4) scale(0.948 1)" font-size="85.3" class="sb">c</text><text transform="translate(89.5 3337.3) scale(0.87 1)" font-size="83.8" class="sf">)</text></g>
</svg>
</body></html>
